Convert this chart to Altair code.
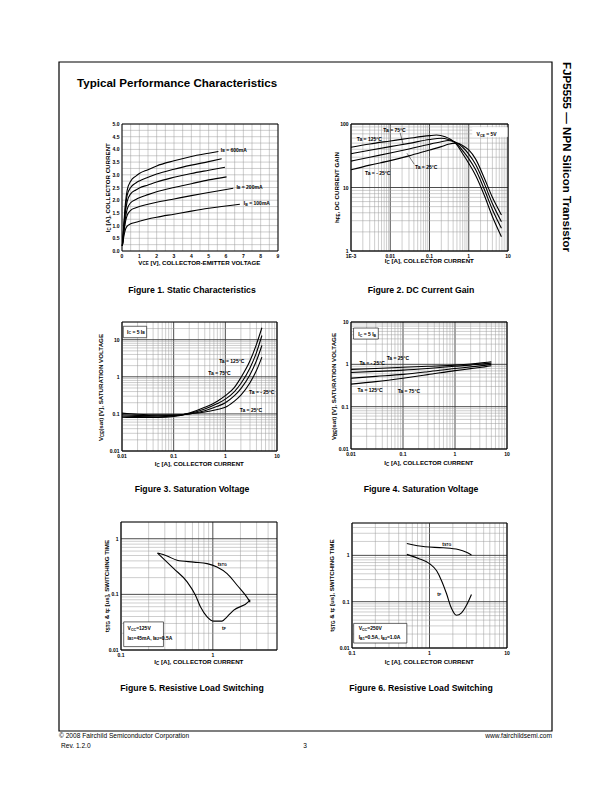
import math
import altair as alt
import pandas as pd

FONT = "Liberation Sans"
W, H = 596, 776
M = 8  # page margin

# ---------------- Figure 1: Static characteristics ----------------
f1_vce_600 = [0.02, 0.1, 0.2, 0.3, 0.5, 0.8, 1.0, 1.5, 2, 3, 4, 5, 5.56]
f1_ic_600 = [0.2, 1.0, 1.9, 2.4, 2.75, 2.95, 3.05, 3.2, 3.35, 3.55, 3.72, 3.85, 3.92]
f1_vce_500 = [0.02, 0.1, 0.2, 0.3, 0.5, 0.8, 1.0, 1.5, 2, 3, 4, 5, 5.75]
f1_ic_500 = [0.2, 0.9, 1.7, 2.2, 2.5, 2.68, 2.76, 2.9, 3.03, 3.22, 3.38, 3.52, 3.63]
f1_vce_400 = [0.02, 0.1, 0.2, 0.3, 0.5, 0.8, 1.0, 1.5, 2, 3, 4, 5, 5.94]
f1_ic_400 = [0.2, 0.85, 1.55, 1.95, 2.25, 2.4, 2.48, 2.6, 2.72, 2.9, 3.05, 3.18, 3.30]
f1_vce_300 = [0.02, 0.1, 0.2, 0.3, 0.5, 0.8, 1.0, 1.5, 2, 3, 4, 5, 6.03]
f1_ic_300 = [0.2, 0.75, 1.3, 1.65, 1.9, 2.03, 2.1, 2.22, 2.33, 2.5, 2.65, 2.8, 2.92]
f1_vce_200 = [0.02, 0.1, 0.2, 0.3, 0.5, 0.8, 1.0, 1.5, 2, 3, 4, 5, 6.42]
f1_ic_200 = [0.2, 0.7, 1.15, 1.4, 1.6, 1.7, 1.75, 1.84, 1.92, 2.05, 2.18, 2.3, 2.47]
f1_vce_100 = [0.02, 0.1, 0.2, 0.3, 0.5, 0.8, 1.0, 1.5, 2, 3, 4, 5, 6.8]
f1_ic_100 = [0.2, 0.55, 0.85, 0.98, 1.07, 1.13, 1.17, 1.26, 1.33, 1.45, 1.57, 1.68, 1.84]
f1_label_text = ["I_{B} = 600mA", "I_{B} = 200mA", "I_{B} = 100mA"]
f1_label_x = [5.7, 6.6, 7.03]
f1_label_y = [3.99, 2.53, 1.88]
f1_xticks = [0, 1, 2, 3, 4, 5, 6, 7, 8, 9]
f1_yticks = [0.0, 0.5, 1.0, 1.5, 2.0, 2.5, 3.0, 3.5, 4.0, 4.5, 5.0]

# ---------------- Figure 2: DC current gain ----------------
f2_ic_125 = [0.001, 0.003, 0.01, 0.03, 0.1, 0.15, 0.25, 0.35, 0.5, 0.7, 1.0, 1.5, 2.5, 4, 6.8]
f2_hfe_125 = [43, 48.5, 54, 59.5, 65.5, 67, 63, 57, 47, 34, 24, 15.5, 7.5, 3.5, 1.68]
f2_ic_75 = [0.001, 0.003, 0.01, 0.03, 0.1, 0.2, 0.3, 0.5, 0.7, 1.0, 1.5, 2.5, 4, 6.8]
f2_hfe_75 = [34, 38.5, 44, 49.5, 57, 59.5, 57, 49, 38, 28.5, 19, 9.3, 4.5, 2.28]
f2_ic_25 = [0.001, 0.003, 0.01, 0.03, 0.1, 0.2, 0.3, 0.45, 0.7, 1.0, 1.5, 2.5, 4, 6.8]
f2_hfe_25 = [26, 30, 35, 40.5, 48, 52.5, 55, 52, 43, 33.5, 23, 11.5, 5.6, 2.9]
f2_ic_m25 = [0.001, 0.003, 0.01, 0.03, 0.1, 0.2, 0.3, 0.5, 0.7, 1.0, 1.5, 2.5, 4, 6.8]
f2_hfe_m25 = [19, 22.5, 26.5, 31.5, 39, 44, 48, 50, 46, 39, 28, 14, 7, 3.7]
f2_label_text = ["Ta = 75°C", "Ta = 125°C", "Ta = 25°C", "Ta = - 25°C", "V_{CE} = 5V"]
f2_label_x = [0.00665, 0.0014, 0.0427, 0.00227, 1.58]
f2_label_y = [80.5, 58, 21.3, 16.7, 69.6]
f2_lead_x = [[0.0178, 0.0215], [0.041, 0.0267]]
f2_lead_y = [[73, 46.7], [23.2, 34.6]]
f2_box = [1.25, 9.6, 63, 88]
f2_xticks = [0.001, 0.01, 0.1, 1, 10]
f2_yticks = [1, 10, 100]

# ---------------- Figure 3: VCE(sat) ----------------
f3_ic = [0.01, 0.02, 0.05, 0.1, 0.2, 0.4, 0.7, 1, 1.5, 2, 3, 4, 5.1]
f3_v_125 = [0.082, 0.08, 0.08, 0.085, 0.105, 0.15, 0.22, 0.31, 0.52, 0.95, 2.7, 7.5, 21]
f3_v_75 = [0.088, 0.085, 0.084, 0.088, 0.102, 0.135, 0.19, 0.25, 0.4, 0.66, 1.72, 4.5, 13]
f3_v_25 = [0.095, 0.091, 0.089, 0.091, 0.1, 0.122, 0.16, 0.2, 0.31, 0.48, 1.13, 2.7, 7]
f3_v_m25 = [0.105, 0.098, 0.094, 0.094, 0.1, 0.112, 0.132, 0.15, 0.22, 0.32, 0.69, 1.47, 3.4]
f3_label_text = ["I_{C} = 5 I_{B}", "Ta = 125°C", "Ta = 75°C", "Ta = - 25°C", "Ta = 25°C"]
f3_label_x = [0.0125, 0.76, 0.468, 2.88, 1.9]
f3_label_y = [16.3, 2.73, 1.23, 0.4, 0.129]
f3_box = [0.0106, 0.030, 11.3, 23]
f3_xticks = [0.01, 0.1, 1, 10]
f3_yticks = [0.01, 0.1, 1, 10]

# ---------------- Figure 4: VBE(sat) ----------------
f4_ic = [0.01, 0.03, 0.1, 0.3, 1, 2, 3, 5]
f4_v_m25 = [0.76, 0.8, 0.85, 0.9, 0.96, 1.02, 1.07, 1.15]
f4_v_25 = [0.64, 0.68, 0.73, 0.8, 0.9, 0.96, 1.01, 1.07]
f4_v_75 = [0.47, 0.52, 0.58, 0.67, 0.8, 0.87, 0.92, 1.0]
f4_v_125 = [0.34, 0.39, 0.47, 0.57, 0.71, 0.79, 0.84, 0.93]
f4_label_text = ["I_{C} = 5 I_{B}", "Ta = - 25°C", "Ta = 25°C", "Ta = 125°C", "Ta = 75°C"]
f4_label_x = [0.0138, 0.0145, 0.0485, 0.0134, 0.079]
f4_label_y = [5.2, 1.1, 1.39, 0.248, 0.235]
f4_box = [0.0112, 0.0335, 3.95, 7.2]
f4_xticks = [0.01, 0.1, 1, 10]
f4_yticks = [0.01, 0.1, 1, 10]

# ---------------- Figure 5: Resistive load switching ----------------
f5_tstg_ic = [0.25, 0.318, 0.408, 0.62, 0.867, 1.11, 1.43, 1.84, 2.47, 2.55]
f5_tstg_t = [0.553, 0.49, 0.41, 0.38, 0.357, 0.31, 0.236, 0.146, 0.0787, 0.072]
f5_tf_ic = [0.25, 0.376, 0.525, 0.647, 0.733, 0.867, 1.03, 1.26, 1.43, 1.69, 2.47, 2.55]
f5_tf_t = [0.553, 0.29, 0.168, 0.0966, 0.0597, 0.0395, 0.033, 0.033, 0.0395, 0.052, 0.075, 0.08]
f5_label_text = ["t_{STG}", "t_{F}", "V_{CC}=125V", "I_{B1}=45mA, I_{B2}=0.5A"]
f5_label_x = [1.13, 1.26, 0.118, 0.118]
f5_label_y = [0.356, 0.025, 0.0245, 0.0166]
f5_box = [0.107, 0.29, 0.0115, 0.032]
f5_xticks = [0.1, 1]
f5_yticks = [0.01, 0.1, 1]

# ---------------- Figure 6: Resistive load switching ----------------
f6_tstg_ic = [0.51, 0.875, 1.5, 2.35, 3.0, 3.48]
f6_tstg_t = [1.8, 1.53, 1.46, 1.34, 1.17, 1.02]
f6_tf_ic = [0.51, 0.72, 1.0, 1.236, 1.43, 1.66, 1.89, 2.23, 2.59, 3.0, 3.48]
f6_tf_t = [1.05, 0.86, 0.665, 0.464, 0.284, 0.148, 0.077, 0.051, 0.0574, 0.0836, 0.143]
f6_label_text = ["t_{STG}", "t_{F}", "V_{CC}=250V", "I_{B1}=0.5A, I_{B2}=1.0A"]
f6_label_x = [1.46, 1.26, 0.122, 0.122]
f6_label_y = [1.77, 0.148, 0.0267, 0.0171]
f6_box = [0.105, 0.51, 0.0128, 0.034]
f6_xticks = [0.1, 1, 10]
f6_yticks = [0.01, 0.1, 1]

MAJ_C, MIN_C = "#3a3a3a", "#9c9c9c"

# Arial/Liberation Sans Bold advance widths (1/1000 em) for placing subscripts
CW = {" ": 278, "(": 333, ")": 333, ",": 278, "-": 333, ".": 278, "=": 584, "[": 333, "]": 333,
      "&": 722, "°": 400, "A": 722, "B": 722, "C": 722, "D": 722, "E": 667, "F": 611, "G": 778,
      "H": 722, "I": 278, "L": 611, "M": 833, "N": 722, "O": 778, "P": 667, "R": 722, "S": 667,
      "T": 611, "U": 722, "V": 667, "W": 944, "Y": 667, "a": 556, "b": 611, "c": 556, "d": 611,
      "e": 556, "f": 333, "g": 611, "h": 611, "i": 278, "l": 278, "m": 889, "n": 611, "o": 611,
      "p": 611, "r": 389, "s": 556, "t": 333, "u": 611, "v": 556, "x": 556, "y": 556}


def tw(s, size):
    return sum(CW.get(c, 556) for c in s) * size / 1000.0


def parse(s):
    segs, buf, i = [], "", 0
    while i < len(s):
        if s.startswith("_{", i):
            if buf:
                segs.append((buf, False))
                buf = ""
            j = s.index("}", i)
            segs.append((s[i + 2:j], True))
            i = j + 1
        else:
            buf += s[i]
            i += 1
    if buf:
        segs.append((buf, False))
    return segs


def rich(data, xe, ye, markup, size, center=False, angle=0, weight="bold"):
    segs = parse(markup)
    sub = size * 0.72
    total = sum(tw(s, sub if b else size) for s, b in segs)
    pos = -total / 2.0 if center else 0.0
    out = []
    for s, b in segs:
        fs = sub if b else size
        lead = len(s) - len(s.lstrip(" "))
        core = s.strip(" ")
        pos += tw(" " * lead, fs)
        if core:
            kw = dict(text=core, align="left", baseline="middle", font=FONT, fontSize=fs,
                      fontWeight=weight, color="black", dx=round(pos, 2))
            if b:
                kw["dy"] = round(size * 0.32, 2)
            if angle:
                kw["angle"] = angle
            out.append(alt.Chart(data).mark_text(**kw).encode(x=xe, y=ye))
        pos += tw(s[lead:], fs)
    return out


def log_grid(lo, hi):
    out = []
    e = math.floor(math.log10(lo) + 1e-9)
    while 10 ** e <= hi * 1.0001:
        for m in range(1, 10):
            v = m * 10 ** e
            if lo * 0.9999 <= v <= hi * 1.0001:
                out.append((v, m == 1))
        e += 1
    return out


def log_label(v):
    return "1E-3" if v < 0.005 else ("%g" % v)


one = pd.DataFrame({"a": [0]})


def panel(box, xdom, ydom, xlog, ylog, gx, gy, xticks, yticks, xfmt, yfmt,
          xtitle, ytitle, xt_d, yt_d, curves, labels, rects, leaders=None):
    l, r, t, b = [v - M for v in box]
    if xlog:
        xs = alt.Scale(type="log", domain=xdom, range=[l, r], nice=False)
    else:
        xs = alt.Scale(type="linear", domain=xdom, range=[l, r], nice=False, zero=False)
    if ylog:
        ys = alt.Scale(type="log", domain=ydom, range=[b, t], nice=False)
    else:
        ys = alt.Scale(type="linear", domain=ydom, range=[b, t], nice=False, zero=False)

    def X(f):
        return alt.X(f, scale=xs, axis=None)

    def Y(f):
        return alt.Y(f, scale=ys, axis=None)

    vx = pd.DataFrame({"v": [g[0] for g in gx], "a": ydom[0], "b": ydom[1],
                       "c": [MAJ_C if g[1] else MIN_C for g in gx],
                       "w": [0.9 if g[1] else 0.5 for g in gx]})
    hy = pd.DataFrame({"v": [g[0] for g in gy], "a": xdom[0], "b": xdom[1],
                       "c": [MAJ_C if g[1] else MIN_C for g in gy],
                       "w": [0.9 if g[1] else 0.5 for g in gy]})
    vgrid = alt.Chart(vx).mark_rule().encode(
        x=X("v:Q"), y=Y("a:Q"), y2="b:Q",
        color=alt.Color("c:N", scale=None), strokeWidth=alt.StrokeWidth("w:Q", scale=None))
    hgrid = alt.Chart(hy).mark_rule().encode(
        y=Y("v:Q"), x=X("a:Q"), x2="b:Q",
        color=alt.Color("c:N", scale=None), strokeWidth=alt.StrokeWidth("w:Q", scale=None))
    frame = alt.Chart(pd.DataFrame({"x0": [xdom[0]], "x1": [xdom[1]], "y0": [ydom[0]], "y1": [ydom[1]]})).mark_rect(
        fillOpacity=0, stroke="black", strokeWidth=1.0).encode(
        x=X("x0:Q"), x2="x1:Q", y=Y("y0:Q"), y2="y1:Q")
    layers = [vgrid, hgrid, frame]
    for rb in rects:
        rdf = pd.DataFrame({"x0": [rb[0][0]], "x1": [rb[0][1]], "y0": [rb[0][2]], "y1": [rb[0][3]]})
        layers.append(alt.Chart(rdf).mark_rect(fill="white", stroke=rb[1], strokeWidth=0.6).encode(
            x=X("x0:Q"), x2="x1:Q", y=Y("y0:Q"), y2="y1:Q"))
    rows = []
    for name, xsd, ysd in curves:
        for xv, yv in zip(xsd, ysd):
            rows.append({"k": name, "x": xv, "y": yv})
    layers.append(alt.Chart(pd.DataFrame(rows)).mark_line(
        color="black", strokeWidth=1.1, interpolate="monotone").encode(
        x=X("x:Q"), y=Y("y:Q"), detail="k:N"))
    if leaders:
        lrows = []
        for i, (lx, ly) in enumerate(zip(leaders[0], leaders[1])):
            for xv, yv in zip(lx, ly):
                lrows.append({"k": i, "x": xv, "y": yv})
        layers.append(alt.Chart(pd.DataFrame(lrows)).mark_line(color="black", strokeWidth=0.5).encode(
            x=X("x:Q"), y=Y("y:Q"), detail="k:N"))
    for txt, lx, ly in zip(*labels):
        row = pd.DataFrame({"x": [lx], "y": [ly]})
        layers += rich(row, X("x:Q"), Y("y:Q"), txt, 5)
    # tick labels through the scales
    xt = pd.DataFrame({"v": xticks, "t": [xfmt(v) for v in xticks], "y": ydom[0]})
    layers.append(alt.Chart(xt).mark_text(align="center", baseline="top", dy=2.5, font=FONT,
                                          fontSize=5, fontWeight="bold", color="black").encode(
        x=X("v:Q"), y=Y("y:Q"), text="t:N"))
    yt = pd.DataFrame({"v": yticks, "t": [yfmt(v) for v in yticks], "x": xdom[0]})
    layers.append(alt.Chart(yt).mark_text(align="right", baseline="middle", dx=-2.5, font=FONT,
                                          fontSize=5, fontWeight="bold", color="black").encode(
        y=Y("v:Q"), x=X("x:Q"), text="t:N"))
    # axis titles
    layers += rich(one, alt.value((l + r) / 2), alt.value(b + xt_d), xtitle, 6.2, center=True)
    layers += rich(one, alt.value(l - yt_d), alt.value((t + b) / 2), ytitle, 6.2, center=True, angle=270)
    return alt.layer(*layers)


def page_text(s, x, y, size, weight="normal", align="left", angle=0):
    return alt.Chart(one).mark_text(text=s, align=align, baseline="middle", font=FONT, fontSize=size,
                                    fontWeight=weight, color="black", angle=angle).encode(
        x=alt.value(x), y=alt.value(y))


lin_x1 = [(i * 0.5, False) for i in range(19)]
lin_y1 = [(i * 0.25, False) for i in range(21)]

IC_T = "I_{C} [A], COLLECTOR CURRENT"

p1 = panel((122, 278, 124, 251), [0, 9], [0, 5], False, False, lin_x1, lin_y1,
           f1_xticks, f1_yticks, lambda v: "%d" % v, lambda v: "%.1f" % v,
           "V_{CE} [V], COLLECTOR-EMITTER VOLTAGE", IC_T, 11.5, 14,
           [("600", f1_vce_600, f1_ic_600), ("500", f1_vce_500, f1_ic_500),
            ("400", f1_vce_400, f1_ic_400), ("300", f1_vce_300, f1_ic_300),
            ("200", f1_vce_200, f1_ic_200), ("100", f1_vce_100, f1_ic_100)],
           (f1_label_text, f1_label_x, f1_label_y), [])

p2 = panel((351, 508, 124, 251), [0.001, 10], [1, 100], True, True,
           log_grid(0.001, 10), log_grid(1, 100),
           f2_xticks, f2_yticks, log_label, log_label,
           IC_T, "h_{FE}, DC CURRENT GAIN", 10, 14.3,
           [("125", f2_ic_125, f2_hfe_125), ("75", f2_ic_75, f2_hfe_75),
            ("25", f2_ic_25, f2_hfe_25), ("-25", f2_ic_m25, f2_hfe_m25)],
           (f2_label_text, f2_label_x, f2_label_y), [(f2_box, "white")],
           (f2_lead_x, f2_lead_y))

p3 = panel((122, 277, 322, 451), [0.01, 10], [0.01, 30], True, True,
           log_grid(0.01, 10), log_grid(0.01, 30),
           f3_xticks, f3_yticks, log_label, log_label,
           IC_T, "V_{CE}(sat) [V], SATURATION VOLTAGE", 13, 21,
           [("125", f3_ic, f3_v_125), ("75", f3_ic, f3_v_75),
            ("25", f3_ic, f3_v_25), ("-25", f3_ic, f3_v_m25)],
           (f3_label_text, f3_label_x, f3_label_y), [(f3_box, "black")])

p4 = panel((351, 507, 322, 449), [0.01, 10], [0.01, 10], True, True,
           log_grid(0.01, 10), log_grid(0.01, 10),
           f4_xticks, f4_yticks, log_label, log_label,
           IC_T, "V_{BE}(sat) [V], SATURATION VOLTAGE", 14, 16.7,
           [("-25", f4_ic, f4_v_m25), ("25", f4_ic, f4_v_25),
            ("75", f4_ic, f4_v_75), ("125", f4_ic, f4_v_125)],
           (f4_label_text, f4_label_x, f4_label_y), [(f4_box, "black")])

p5 = panel((121, 277, 522, 650), [0.1, 5], [0.01, 2], True, True,
           log_grid(0.1, 5), log_grid(0.01, 2),
           f5_xticks, f5_yticks, log_label, log_label,
           IC_T, "t_{STG} & t_{F} [us], SWITCHING TIME", 12, 13.7,
           [("tstg", f5_tstg_ic, f5_tstg_t), ("tf", f5_tf_ic, f5_tf_t)],
           (f5_label_text, f5_label_x, f5_label_y), [(f5_box, "black")])

p6 = panel((352, 507, 523, 648), [0.1, 10], [0.01, 5], True, True,
           log_grid(0.1, 10), log_grid(0.01, 5),
           f6_xticks, f6_yticks, log_label, log_label,
           IC_T, "t_{STG} & t_{F} [us], SWITCHING TIME", 14, 19.7,
           [("tstg", f6_tstg_ic, f6_tstg_t), ("tf", f6_tf_ic, f6_tf_t)],
           (f6_label_text, f6_label_x, f6_label_y), [(f6_box, "black")])

frame = alt.Chart(one).mark_rect(fillOpacity=0, stroke="black", strokeWidth=1.2).encode(
    x=alt.value(51), x2=alt.value(544), y=alt.value(54), y2=alt.value(723))

page = [
    frame,
    page_text("Typical Performance Characteristics", 69, 76, 11.6, "bold"),
    page_text("FJP5555 — NPN Silicon Transistor", 558, 54, 11.6, "bold", "left", 90),
    page_text("Figure 1. Static Characteristics", 184, 282, 8.7, "bold", "center"),
    page_text("Figure 2. DC Current Gain", 413, 282, 8.7, "bold", "center"),
    page_text("Figure 3. Saturation Voltage", 184, 481, 8.7, "bold", "center"),
    page_text("Figure 4. Saturation Voltage", 413, 481, 8.7, "bold", "center"),
    page_text("Figure 5. Resistive Load Switching", 184, 680, 8.7, "bold", "center"),
    page_text("Figure 6. Resistive Load Switching", 413, 680, 8.7, "bold", "center"),
    page_text("© 2008 Fairchild Semiconductor Corporation", 51, 728, 6.6),
    page_text("www.fairchildsemi.com", 544, 728, 6.6, "normal", "right"),
    page_text("Rev. 1.2.0", 53, 738, 6.6),
    page_text("3", 297, 738, 6.6, "normal", "center"),
]

chart = alt.layer(*page, p1, p2, p3, p4, p5, p6).resolve_scale(
    x="independent", y="independent").properties(
    width=W, height=H, padding=0, autosize="none").configure_view(strokeWidth=0)

chart.save("out.html", embed_options={"renderer": "svg", "actions": False})
